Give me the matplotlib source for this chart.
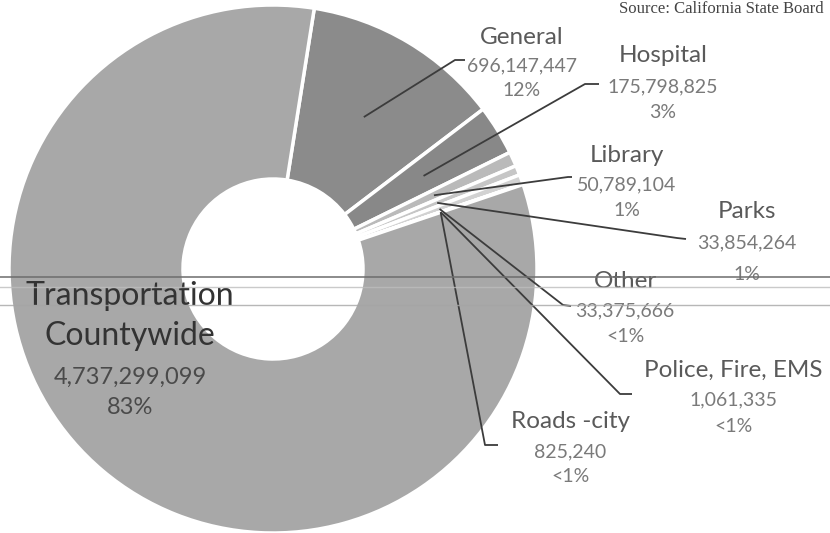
import numpy as np
import matplotlib.pyplot as plt

# Property tax revenue by category
names = ["General", "Hospital", "Library", "Parks", "Other",
         "Police, Fire, EMS", "Roads -city", "Transportation\nCountywide"]
values = [696147447, 175798825, 50789104, 33854264, 33375666,
          1061335, 825240, 4737299099]
pct_labels = ["12%", "3%", "1%", "1%", "<1%", "<1%", "<1%", "83%"]
colors = ["#8b8b8b", "#888888", "#bababa", "#c6c6c6", "#d2d2d2",
          "#dadada", "#d6d6d6", "#a8a8a8"]

W, H = 830, 533
def Y(p):
    # pixel row -> data y
    return H - p

plt.rcParams['font.family'] = ['Lato', 'DejaVu Sans']

fig = plt.figure(figsize=(8.3, 5.33), dpi=100)
ax = fig.add_axes([0, 0, 1, 1])

cx, cy, R, hole = 273, Y(269), 264, 90
wedges, _ = ax.pie(values, startangle=81, counterclock=False, colors=colors,
                   center=(cx, cy), radius=R, frame=True,
                   wedgeprops=dict(width=R - hole, edgecolor="white", linewidth=2.5))
ax.set_xlim(0, W)
ax.set_ylim(0, H)
ax.set_aspect("auto")
ax.axis("off")

# outside labels: name, value, percent rows and leader line end
label_pos = [
    (522, [38, 66, 91]),
    (663, [55, 87, 113]),
    (627, [156, 185, 210]),
    (747, [212, 243, 274]),
    (625, [282, 311, 337]),
    (733, [370, 400, 426]),
    (570, [422, 452, 477]),
]
leader_end = [
    ((455, 60), (465, 60)),
    ((585, 84), (599, 84)),
    ((568, 177), (572, 177)),
    ((677, 238), (686, 239)),
    ((563, 305), (571, 306)),
    ((620, 394), (632, 394)),
    ((485, 445), (498, 445)),
]

for i, w in enumerate(wedges[:7]):
    mid = np.deg2rad((w.theta1 + w.theta2) / 2)
    r_mid = (R + hole) / 2
    sx, sy = cx + r_mid * np.cos(mid), cy + r_mid * np.sin(mid)
    (ex, ey), (hx, hy) = leader_end[i]
    ax.plot([sx, ex, hx], [sy, Y(ey), Y(hy)], color="#3c3c3c", lw=1.3,
            solid_capstyle="butt", zorder=5)
    x, rows = label_pos[i]
    ax.text(x, Y(rows[0]), names[i], ha="center", va="center",
            fontsize=17.5, color="#5a5a5a", zorder=6)
    ax.text(x, Y(rows[1]), f"{values[i]:,}", ha="center", va="center",
            fontsize=14, color="#7a7a7a", zorder=6)
    ax.text(x, Y(rows[2]), pct_labels[i], ha="center", va="center",
            fontsize=14, color="#7a7a7a", zorder=6)

# big slice label sits inside the ring
tname = names[7].split("\n")
ax.text(130, Y(296), tname[0], ha="center", va="center", fontsize=23,
        color="#333333", zorder=6)
ax.text(130, Y(336), tname[1], ha="center", va="center", fontsize=23,
        color="#333333", zorder=6)
ax.text(130, Y(377), f"{values[7]:,}", ha="center", va="center",
        fontsize=17, color="#4a4a4a", zorder=6)
ax.text(130, Y(408), pct_labels[7], ha="center", va="center",
        fontsize=17, color="#4a4a4a", zorder=6)

ax.text(824, Y(1), "Source: California State Board", ha="right", va="top",
        fontsize=12, family="Liberation Serif", color="#444444", zorder=6)

# horizontal rules across the page
for yp, c, lw in [(277, "#6e6e6e", 1.4), (287, "#bdbdbd", 1.0), (305, "#a5a5a5", 1.0)]:
    ax.plot([0, W], [Y(yp), Y(yp)], color=c, lw=lw, alpha=0.8, zorder=7)

fig.savefig("out.png", dpi=100)
